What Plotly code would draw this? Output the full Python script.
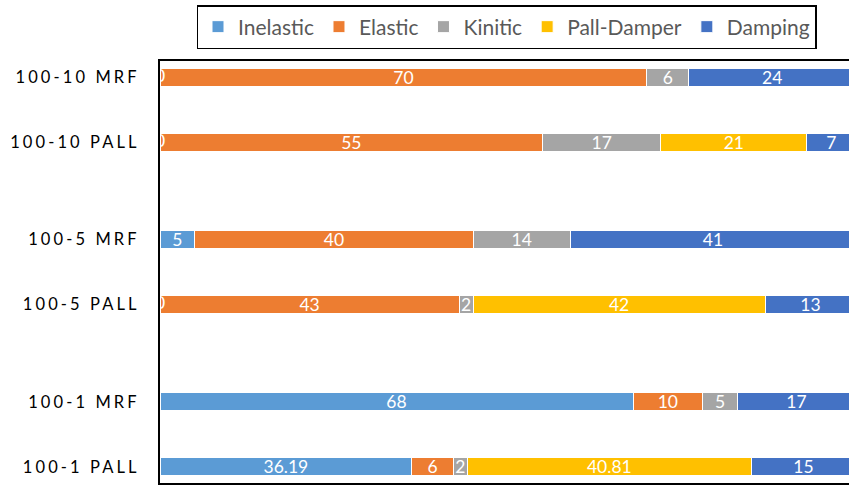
import plotly.graph_objects as go

# ---- data ----
categories = ["100-10 MRF", "100-10 PALL", "100-5 MRF", "100-5 PALL", "100-1 MRF", "100-1 PALL"]
inelastic = [0, 0, 5, 0, 68, 36.19]
elastic = [70, 55, 40, 43, 10, 6]
kinitic = [6, 17, 14, 2, 5, 2]
pall_damper = [None, 21, None, 42, None, 40.81]
damping = [24, 7, 41, 13, 17, 15]

series_names = ["Inelastic", "Elastic", "Kinitic", "Pall-Damper", "Damping"]
series_values = [inelastic, elastic, kinitic, pall_damper, damping]
colors = ["#5B9BD5", "#ED7D31", "#A5A5A5", "#FFC000", "#4472C4"]

# category layout (top to bottom) with empty spacer rows
row_layout = ["100-10 MRF", None, "100-10 PALL", None, None, "100-5 MRF", None,
              "100-5 PALL", None, None, "100-1 MRF", None, "100-1 PALL"]

FONT = "Lato"
cat_order = []
blank_i = 0
for r in row_layout:
    if r is None:
        blank_i += 1
        cat_order.append(" " * blank_i)
    else:
        cat_order.append(r)
cat_order = cat_order[::-1]  # bottom first

def spaced(t):
    return '<span style="letter-spacing:3.1px">' + t + '</span>'

W, H = 849, 485

fig = go.Figure()
for name, vals, col in zip(series_names, series_values, colors):
    fig.add_trace(go.Bar(
        name=name, y=categories, x=vals, orientation="h",
        marker=dict(color=col, line=dict(color="white", width=1)),
        texttemplate="%{x}", textposition="inside", insidetextanchor="middle",
        constraintext="none", textangle=0,
        textfont=dict(family=FONT, size=17.5, color="white"),
        hoverinfo="skip",
    ))

# zero-valued labels (clipped at axis like the original)
zx, zy = [], []
base = [0] * len(categories)
for vals in series_values:
    for i, v in enumerate(vals):
        if v == 0 and v is not None:
            zx.append(base[i] + v / 2)
            zy.append(categories[i])
    base = [b + (v or 0) for b, v in zip(base, vals)]
fig.add_trace(go.Scatter(x=zx, y=zy, mode="text", text=["0"] * len(zx),
                         textfont=dict(family=FONT, size=17.5, color="white"),
                         cliponaxis=True, showlegend=False, hoverinfo="skip"))

fig.update_layout(
    barmode="stack",
    bargap=0.45,
    width=W, height=H,
    margin=dict(l=160, r=0, t=61, b=2, autoexpand=False),
    plot_bgcolor="white", paper_bgcolor="white",
    showlegend=True,
    legend=dict(
        orientation="h", xref="container", yref="container",
        x=506.5 / W, xanchor="center", y=1 - 5 / H, yanchor="top",
        bordercolor="black", borderwidth=1.5, bgcolor="white",
        font=dict(family=FONT, size=21, color="#595959"),
        traceorder="normal",
    ),
    xaxis=dict(range=[0, 99.05], showgrid=False, zeroline=False, showticklabels=False,
               showline=True, linecolor="black", linewidth=1.5, mirror=True, ticks="",
               automargin=False),
    yaxis=dict(categoryorder="array", categoryarray=cat_order, type="category",
               range=[-0.5, len(cat_order) - 0.5],
               tickvals=cat_order, ticktext=[spaced(c) if c.strip() else "" for c in cat_order],
               showgrid=False, zeroline=False, showline=True, linecolor="black", linewidth=2,
               ticks="", ticklabelstandoff=15, automargin=False,
               tickfont=dict(family=FONT, size=16.5, color="#000000")),
)

fig.write_html(
    "out.html",
    config={"displayModeBar": False},
    post_script="document.body.style.margin='0';document.body.style.overflow='hidden';",
)
